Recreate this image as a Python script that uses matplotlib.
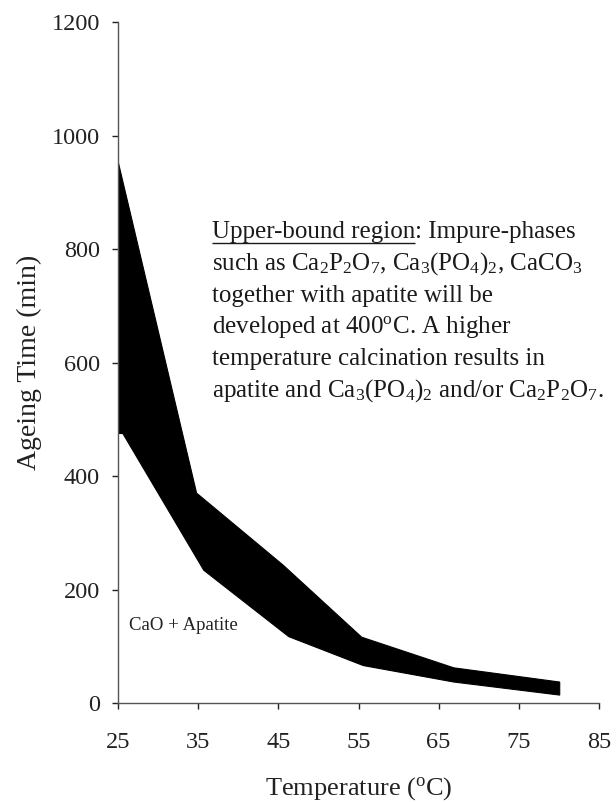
import matplotlib
matplotlib.use("Agg")
import matplotlib.pyplot as plt

plt.rcParams['font.family'] = ['Liberation Serif', 'DejaVu Serif']
plt.rcParams['mathtext.fontset'] = 'custom'
plt.rcParams['mathtext.rm'] = 'Liberation Serif'
plt.rcParams['mathtext.it'] = 'Liberation Serif:italic'
plt.rcParams['mathtext.bf'] = 'Liberation Serif:bold'

# Boundaries of the band (temperature in degC, ageing time in min)
upper_temp = [25, 34.8, 45.6, 55.4, 66.9, 80.1]
upper_time = [955, 370, 243, 116, 62, 37]
lower_temp = [25, 25.6, 35.7, 46.3, 55.6, 66.9, 80.1]
lower_time = [475, 475, 234, 117, 66, 37, 14]

x_ticks = [25, 35, 45, 55, 65, 75, 85]
y_ticks = [0, 200, 400, 600, 800, 1000, 1200]

note_lines = [
    r"such as Ca$_2$P$_2$O$_7$, Ca$_3$(PO$_4$)$_2$, CaCO$_3$",
    "together with apatite will be",
    r"developed at 400$^{\rm o}$C. A higher",
    "temperature calcination results in",
    r"apatite and Ca$_3$(PO$_4$)$_2$ and/or Ca$_2$P$_2$O$_7$.",
]

fig = plt.figure(figsize=(6.16, 8.02), dpi=100)
ax = fig.add_axes([0.1916, 0.1234, 0.7808, 0.849])

# Band polygon: upper edge left->right, lower edge right->left
poly_x = upper_temp + lower_temp[::-1]
poly_y = upper_time + lower_time[::-1]
ax.fill(poly_x, poly_y, color='black', lw=0.8, ec='black')

ax.set_xlim(25, 85)
ax.set_ylim(0, 1200)
ax.set_xticks(x_ticks)
ax.set_yticks(y_ticks)
ax.tick_params(axis='both', labelsize=17.5, colors='#222222', length=4.5, width=1, direction='out')
ax.tick_params(axis='x', pad=16)
ax.tick_params(axis='y', pad=8.5)
for s in ['top', 'right']:
    ax.spines[s].set_visible(False)
for s in ['left', 'bottom']:
    ax.spines[s].set_color('#555555')
    ax.spines[s].set_linewidth(1.0)

ax.set_xlabel(r"Temperature ($^{\rm o}$C)", fontsize=19, color='#222222', labelpad=16)
ax.set_ylabel("Ageing Time (min)", fontsize=20, color='#222222', labelpad=7)

ax.text(26.4, 137, "CaO + Apatite", fontsize=13.5, color='#222222', va='center', ha='left')

# Annotation block
x0, y0, dy = 36.7, 819, 55.9
txt_color = '#1a1a1a'
fs = 18
head = ax.text(x0, y0, "Upper-bound region", fontsize=fs, color=txt_color, va='baseline', ha='left')
fig.canvas.draw()
renderer = fig.canvas.get_renderer()
bb = head.get_window_extent(renderer=renderer)
inv = ax.transData.inverted()
(xa, _), (xb, _) = inv.transform([(bb.x0, bb.y0), (bb.x1, bb.y0)])
ax.plot([xa, xb], [y0 - 8, y0 - 8], color=txt_color, lw=1.0, solid_capstyle='butt')
ax.text(xb, y0, ": Impure-phases", fontsize=fs, color=txt_color, va='baseline', ha='left')
for i, line in enumerate(note_lines, start=1):
    ax.text(x0, y0 - i * dy, line, fontsize=fs, color=txt_color, va='baseline', ha='left')

fig.savefig("out.png", dpi=100)
